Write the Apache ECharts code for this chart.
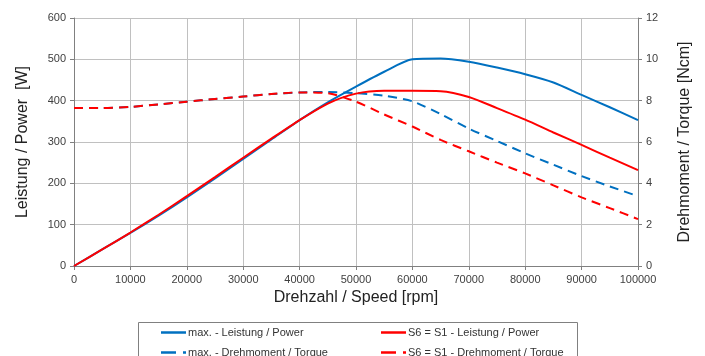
<!DOCTYPE html>
<html>
<head>
<meta charset="utf-8">
<script src="https://cdn.jsdelivr.net/npm/echarts@6/dist/echarts.min.js"></script>
<style>html,body{margin:0;padding:0;background:#fff}#c{width:705px;height:356px}</style>
</head>
<body>
<div id="c"></div>
<script>
const speeds = [0,5000,10000,15000,20000,25000,30000,35000,40000,45000,50000,55000,60000,65000,70000,75000,80000,85000,90000,95000,100000];
const maxPower = [0,40,80,122,166,212,259,306,353,396,434,470,500,502,494,480,464,444,414,384,353];
const s6Power  = [0,40,81,124,169,215,262,308,353,393,417,424,424,423,409,382,354,323,293,262,232];
const maxTorque = [7.65,7.65,7.7,7.82,7.95,8.08,8.2,8.32,8.4,8.42,8.36,8.24,7.97,7.35,6.65,6.05,5.45,4.9,4.35,3.85,3.38];
const s6Torque  = [7.65,7.65,7.7,7.82,7.95,8.08,8.2,8.32,8.4,8.36,7.95,7.33,6.75,6.1,5.55,5.0,4.48,3.9,3.32,2.8,2.27];
const names = ['max. - Leistung / Power','S6 = S1 - Leistung / Power','max. - Drehmoment / Torque','S6 = S1 - Drehmoment / Torque'];

const BLUE = '#0070C0', RED = '#FF0000';
const pairs = arr => speeds.map((s,i)=>[s,arr[i]]);
const font = 'Liberation Sans, Arial, sans-serif';
const chart = echarts.init(document.getElementById('c'), null, {renderer:'canvas'});
const axisLabel = {color:'#404040', fontSize:11, fontFamily:font, formatter: v => String(v)};
const gridLine = {show:true, lineStyle:{color:'#c0c0c0', width:1}};
const axisLine = {show:true, lineStyle:{color:'#808080', width:1}};
const mk = (name, data, color, dashed, yIdx) => ({
  name, type:'line', data, yAxisIndex:yIdx, smooth:0.25, symbol:'none', showSymbol:false,
  lineStyle:{color, width:2, type: dashed ? [9,6] : 'solid'}, itemStyle:{color}, z: yIdx===0?3:2
});
const SOLID_ICON = 'path://M0,0H25V2.5H0Z';
const DASH_ICON = 'path://M0,0H15V2.5H0Z M22,0H25V2.5H22Z';
const legendAt = (left, top, name, icon) => ({
  orient:'horizontal', left, top, itemWidth:25, itemHeight:2.5, itemGap:0, padding:0,
  data:[{name, icon}],
  textStyle:{color:'#333', fontSize:11, fontFamily:font, padding:[0,0,0,-3]}
});
chart.setOption({
  animation:false,
  grid:{left:74, right:67, top:18, bottom:90},
  xAxis:{type:'value', min:0, max:100000, interval:10000,
    name:'Drehzahl / Speed [rpm]', nameLocation:'middle', nameGap:24,
    nameTextStyle:{fontSize:16, color:'#222', fontFamily:font},
    axisLine, axisTick:{show:true, length:4, lineStyle:{color:'#808080'}}, axisLabel, splitLine:gridLine},
  yAxis:[
    {type:'value', min:0, max:600, interval:100, position:'left',
      name:'Leistung / Power  [W]', nameLocation:'middle', nameGap:43, nameRotate:90,
      nameTextStyle:{fontSize:16, color:'#222', fontFamily:font},
      axisLine, axisTick:{show:true, length:4, lineStyle:{color:'#808080'}}, axisLabel, splitLine:gridLine},
    {type:'value', min:0, max:12, interval:2, position:'right',
      name:'Drehmoment / Torque [Ncm]', nameLocation:'middle', nameGap:39, nameRotate:90,
      nameTextStyle:{fontSize:16, color:'#222', fontFamily:font},
      axisLine, axisTick:{show:true, length:4, lineStyle:{color:'#808080'}}, axisLabel, splitLine:{show:false}}
  ],
  legend:[
    legendAt(161, 327, names[0], SOLID_ICON),
    legendAt(381, 327, names[1], SOLID_ICON),
    legendAt(161, 347, names[2], DASH_ICON),
    legendAt(381, 347, names[3], DASH_ICON)
  ],
  graphic:[{type:'rect', shape:{x:138.5, y:322.5, width:439, height:60},
    style:{fill:'none', stroke:'#808080', lineWidth:1}, silent:true}],
  series:[
    mk(names[0], pairs(maxPower), BLUE, false, 0),
    mk(names[1], pairs(s6Power), RED, false, 0),
    mk(names[2], pairs(maxTorque), BLUE, true, 1),
    mk(names[3], pairs(s6Torque), RED, true, 1)
  ]
});
</script>
</body>
</html>
